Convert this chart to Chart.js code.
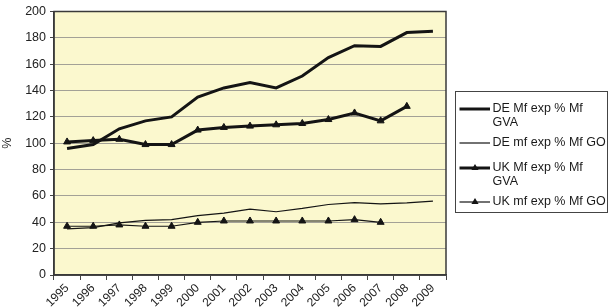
<!DOCTYPE html>
<html>
<head>
<meta charset="utf-8">
<script src="https://cdn.jsdelivr.net/npm/chart.js@4/dist/chart.umd.min.js"></script>
<style>
  html, body { margin: 0; padding: 0; background: #ffffff; }
  #wrap { width: 610px; height: 308px; }
</style>
</head>
<body>
<div id="wrap"><canvas id="c" width="610" height="308"></canvas></div>
<script>
const years = ['1995','1996','1997','1998','1999','2000','2001','2002','2003','2004','2005','2006','2007','2008','2009'];
const seriesNames = ['DE Mf exp % Mf GVA', 'DE mf exp % Mf GO', 'UK Mf exp % Mf GVA', 'UK mf exp % Mf GO'];
const deGVA = [96, 99, 111, 117, 120, 135, 142, 146, 142, 151, 165, 174, 173.5, 184, 185];
const deGO  = [35, 36, 39.5, 41.5, 42, 45, 47, 50, 48, 50.5, 53.5, 55, 54, 54.7, 56];
const ukGVA = [101, 102, 103, 99, 99, 110, 112, 113, 114, 115, 118, 123, 117, 128, null];
const ukGO  = [37, 37, 38, 37, 37, 40, 41, 41, 41, 41, 41, 42, 40, null, null];
const yTicks = { min: 0, max: 200, step: 20 };

const INK = '#141414';
const FONT = "'Liberation Sans', Arial, sans-serif";

const plotBg = {
  id: 'plotBg',
  beforeDraw(chart) {
    const { ctx, chartArea: a } = chart;
    ctx.save();
    ctx.fillStyle = '#fbf8ce';
    ctx.fillRect(a.left, a.top, a.right - a.left, a.bottom - a.top);
    ctx.restore();
  },
  afterDatasetsDraw(chart) {
    const { ctx, chartArea: a } = chart;
    ctx.save();
    ctx.strokeStyle = '#3a3a3a';
    ctx.lineWidth = 1.5;
    ctx.strokeRect(a.left, a.top, a.right - a.left, a.bottom - a.top);
    ctx.restore();
  }
};

const boxLegend = {
  id: 'boxLegend',
  afterDraw(chart) {
    const { ctx } = chart;
    const bx = 455.5, by = 91.5, bw = 152, bh = 121;
    ctx.save();
    ctx.fillStyle = '#ffffff';
    ctx.fillRect(bx, by, bw, bh);
    ctx.strokeStyle = '#444';
    ctx.lineWidth = 1;
    ctx.strokeRect(bx, by, bw, bh);
    ctx.font = '12.5px ' + FONT;
    ctx.textBaseline = 'middle';
    ctx.fillStyle = '#1a1a1a';
    const textX = 492.5, maxW = 114, lineH = 13.3;
    let y = 109;
    chart.data.datasets.forEach(ds => {
      const words = ds.label.split(' ');
      const lines = [];
      let cur = '';
      words.forEach(w => {
        const t = cur ? cur + ' ' + w : w;
        if (ctx.measureText(t).width > maxW && cur) { lines.push(cur); cur = w; }
        else cur = t;
      });
      if (cur) lines.push(cur);
      ctx.strokeStyle = INK;
      ctx.lineWidth = ds.borderWidth;
      ctx.beginPath();
      ctx.moveTo(459.5, y);
      ctx.lineTo(490, y);
      ctx.stroke();
      if (ds.pointRadius > 0) {
        const r = ds.pointRadius;
        ctx.fillStyle = INK;
        ctx.beginPath();
        const cx = 475, h = r * 1.5;
        ctx.moveTo(cx, y - h * 0.66);
        ctx.lineTo(cx + r * 0.9, y + h * 0.34);
        ctx.lineTo(cx - r * 0.9, y + h * 0.34);
        ctx.closePath();
        ctx.fill();
      }
      ctx.fillStyle = '#1a1a1a';
      lines.forEach((ln, i) => ctx.fillText(ln, textX, y + i * lineH));
      y += 16 + lines.length * 9;
    });
    ctx.restore();
  }
};

new Chart(document.getElementById('c'), {
  type: 'line',
  data: {
    labels: years,
    datasets: [
      { label: seriesNames[0], data: deGVA, borderColor: INK, backgroundColor: INK, borderWidth: 3, pointRadius: 0, tension: 0 },
      { label: seriesNames[1], data: deGO, borderColor: INK, backgroundColor: INK, borderWidth: 1.2, pointRadius: 0, tension: 0 },
      { label: seriesNames[2], data: ukGVA, borderColor: INK, backgroundColor: INK, borderWidth: 3, pointRadius: 4, pointBorderWidth: 1, pointStyle: 'triangle', tension: 0 },
      { label: seriesNames[3], data: ukGO, borderColor: INK, backgroundColor: INK, borderWidth: 1.2, pointRadius: 4, pointBorderWidth: 1, pointStyle: 'triangle', tension: 0 }
    ]
  },
  options: {
    responsive: false,
    animation: false,
    devicePixelRatio: 1,
    layout: { padding: { top: 7, right: 164, left: 0, bottom: 0 } },
    plugins: { legend: { display: false }, tooltip: { enabled: false } },
    scales: {
      x: {
        type: 'category',
        offset: true,
        grid: { offset: true, drawOnChartArea: false, drawTicks: true, tickLength: 5, tickColor: '#444' },
        border: { display: true, color: '#3a3a3a', width: 1.5 },
        ticks: { maxRotation: 45, minRotation: 45, autoSkip: false, color: '#222', padding: 1, font: { family: FONT, size: 12 } },
        afterFit(scale) { scale.height = 33; }
      },
      y: {
        min: yTicks.min, max: yTicks.max,
        ticks: { stepSize: yTicks.step, color: '#222', padding: 4, font: { family: FONT, size: 12.5 } },
        grid: { color: '#a3a196', lineWidth: 1, drawTicks: true, tickLength: 4, tickColor: '#444' },
        border: { display: true, color: '#3a3a3a', width: 1.5 },
        title: { display: true, text: '%', color: '#222', font: { family: FONT, size: 12.5 }, padding: { top: 0, bottom: 0 } },
        afterFit(scale) { scale.width = 54; }
      }
    }
  },
  plugins: [plotBg, boxLegend]
});
</script>
</body>
</html>
